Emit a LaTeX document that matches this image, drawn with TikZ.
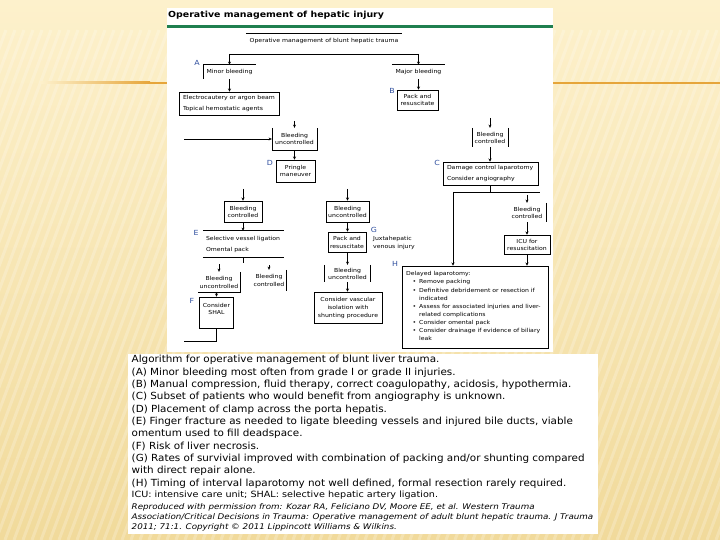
\documentclass[tikz,border=0pt]{standalone}
\usepackage{fontspec}
\setmainfont{DejaVu Sans}[FakeStretch=1.12]
\newfontfamily\capfont{DejaVu Sans}[FakeStretch=1.06]
\usetikzlibrary{arrows.meta}
\definecolor{bgtop}{HTML}{FDF1CC}
\definecolor{bgbot}{HTML}{F1DA9B}
\definecolor{orangeline}{HTML}{E6A53A}
\definecolor{greenline}{HTML}{1F7F4F}
\definecolor{lblblue}{HTML}{2F4F9F}
\newcommand{\hbul}{\makebox[13pt][l]{\hspace{6.5pt}\textbullet}}
\newcommand{\hind}{\hspace*{13pt}}
\tikzset{
  txt/.style={font=\fontsize{5.5}{7}\selectfont, align=center, inner sep=0pt, rectangle},
  fullbox/.style={txt, draw, line width=0.6pt},
  openbox/.style={txt},
  sz/.style n args={2}{minimum width=#1pt, minimum height=#2pt},
  conn/.style={line width=0.6pt},
  arr/.style={conn, -{Stealth[length=3.2pt,width=3pt]}},
  lbl/.style={font=\fontsize{7}{8}\selectfont, text=lblblue, inner sep=0pt},
  captxt/.style={font=\capfont\fontsize{9.8}{12}\selectfont, anchor=west, inner sep=0pt},
  capsmall/.style={font=\fontsize{8.6}{9}\selectfont, anchor=west, inner sep=0pt},
  capit/.style={font=\fontsize{7.8}{9}\selectfont\itshape, anchor=west, inner sep=0pt},
}
\begin{document}
\begin{tikzpicture}[x=1pt,y=-1pt]
\useasboundingbox (0,0) rectangle (720,540);
% background
\shade[top color=bgtop, bottom color=bgbot] (0,0) rectangle (720,540);
\begin{scope}
\clip (0,30) rectangle (720,540);
\foreach \x in {-220,-211,...,720} { \draw[white, opacity=0.22, line width=3pt] (\x,540) -- (\x+190,30); }
\end{scope}
\shade[left color=bgtop, right color=orangeline] (40,82) rectangle (150,84);
\fill[orangeline] (150,82) rectangle (720,84);
% panels
\fill[white] (167,8) rectangle (553,352);
\fill[white] (128,354) rectangle (598,534);
% title
\node[font=\fontsize{8.4}{10}\selectfont\bfseries, anchor=west, inner sep=0pt] (title) at (168,15.5) {Operative management of hepatic injury};
\fill[greenline] (167,25) rectangle (553,28);

% nodes
\node[openbox, sz={156}{14}] (root) at (324,41) {Operative management of blunt hepatic trauma};
\draw[conn] (root.north west) -- (root.north east);
\node[openbox, sz={53}{14}] (minor) at (229.5,72) {Minor bleeding};
\draw[conn] (minor.south west) -- (minor.north west) -- (minor.north east);
\node[openbox, sz={53}{14}] (major) at (418.5,72) {Major bleeding};
\draw[conn] (major.north west) -- (major.north east);
\node[fullbox, text width=92pt, inner xsep=4pt, align=left, minimum height=23pt, font=\fontsize{5.5}{11}\selectfont] (electro) at (229,103.5) {Electrocautery or argon beam\\Topical hemostatic agents};
\node[fullbox, sz={41}{20}, font=\fontsize{5.5}{7.5}\selectfont] (packB) at (417.5,100) {Pack and\\resuscitate};
\node[openbox, sz={45}{22}] (bu1) at (294.5,139) {Bleeding\\uncontrolled};
\draw[conn] (bu1.north west) -- (bu1.south west) -- (bu1.south east) -- (bu1.north east);
\node[openbox, sz={36}{19}] (bc1) at (490,137.5) {Bleeding\\controlled};
\draw[conn] (bc1.north west) -- (bc1.south west);
\draw[conn] (bc1.north east) -- (bc1.south east);
\node[fullbox, sz={39}{22}] (pringle) at (295.5,171) {Pringle\\maneuver};
\node[fullbox, text width=87pt, inner xsep=4pt, align=left, minimum height=23pt, font=\fontsize{5.5}{11}\selectfont] (dcl) at (490.5,173.5) {Damage control laparotomy\\Consider angiography};
\node[fullbox, sz={38}{21}] (bc2) at (243,211.5) {Bleeding\\controlled};
\node[fullbox, sz={43}{21}] (bu2) at (347.5,211.5) {Bleeding\\uncontrolled};
\node[openbox, sz={38}{19}] (bc3) at (527,212.5) {Bleeding\\controlled};
\draw[conn] (bc3.north east) -- (bc3.south east);
\node[fullbox, sz={46}{19}] (icu) at (527,244.5) {ICU for\\resuscitation};
\node[openbox, text width=75pt, inner xsep=3pt, align=left, minimum height=26pt, font=\fontsize{5.5}{11}\selectfont] (E) at (243.5,244) {Selective vessel ligation\\Omental pack};
\draw[conn] (E.north west) -- (E.north east);
\draw[conn] (E.south west) -- (E.south east);
\node[fullbox, sz={38}{20}, font=\fontsize{5.5}{8}\selectfont] (packG) at (347,242) {Pack and\\resuscitate};
\node[txt, align=left, anchor=west, font=\fontsize{5.5}{8}\selectfont] (juxta) at (373,243) {Juxtahepatic\\venous injury};
\node[openbox, sz={46}{17}] (bu4) at (347.5,273.5) {Bleeding\\uncontrolled};
\draw[conn] (bu4.north west) -- (bu4.south west);
\draw[conn] (bu4.north east) -- (bu4.south east);
\node[fullbox, sz={68}{31}, font=\fontsize{5.5}{8}\selectfont] (vasc) at (348,307.5) {Consider vascular\\isolation with\\shunting procedure};
\node[openbox, sz={42}{20}, font=\fontsize{5.5}{8}\selectfont] (bu3) at (219,282) {Bleeding\\uncontrolled};
\draw[conn] (bu3.north east) -- (bu3.south east) -- (bu3.south west);
\node[openbox, sz={34}{21}, font=\fontsize{5.5}{8}\selectfont] (bc4) at (269,280.5) {Bleeding\\controlled};
\draw[conn] (bc4.north east) -- (bc4.south east);
\node[fullbox, sz={34}{31}] (shal) at (216.5,312.5) {};
\node[txt] (shaltext) at (216.5,308.5) {Consider\\SHAL};
\node[fullbox, sz={146}{82}] (H) at (475,307) {};
\node[txt, align=left, anchor=north west, font=\fontsize{5.5}{8.1}\selectfont] (Htext) at (406,271.5) {Delayed laparotomy:\\\hbul Remove packing\\\hbul Definitive debridement or resection if\\\hind indicated\\\hbul Assess for associated injuries and liver-\\\hind related complications\\\hbul Consider omental pack\\\hbul Consider drainage if evidence of biliary\\\hind leak};

% labels
\node[lbl] (lA) at (197,63) {A};
\node[lbl] (lB) at (392,91) {B};
\node[lbl] (lC) at (437,163) {C};
\node[lbl] (lD) at (270,163) {D};
\node[lbl] (lE) at (196,233) {E};
\node[lbl] (lF) at (192,301) {F};
\node[lbl] (lG) at (374,230) {G};
\node[lbl] (lH) at (395,264) {H};

% connectors
\coordinate (tl) at (229.5,54);
\coordinate (tr) at (418.5,54);
\draw[conn] (tl) -- (tr);
\draw[arr] (tl) -- (minor.north);
\draw[arr] (tr) -- (major.north);
\draw[arr] (minor.south) -- (minor.south |- electro.north);
\draw[arr] (major.south) -- (major.south |- packB.north);
\coordinate (s1) at (294.5,121);
\draw[arr] (s1) -- (bu1.north);
\coordinate (lf) at (184,139);
\draw[arr] (lf) -- (bu1.west);
\draw[arr] (bu1.south) -- (bu1.south |- pringle.north);
\coordinate (s2) at (490,118);
\draw[arr] (s2) -- (bc1.north);
\draw[arr] (bc1.south) -- (bc1.south |- dcl.north);
\coordinate (j1) at (490,192);
\coordinate (jl) at (453,192);
\coordinate (jr) at (540,192);
\draw[conn] (dcl.south -| j1) -- (j1);
\draw[conn] (jl) -- (jr);
\draw[arr] (jl) -- (jl |- H.north);
\coordinate (s7) at (527,195);
\draw[arr] (s7) -- (bc3.north);
\draw[arr] (bc3.south) -- (icu.north);
\draw[arr] (icu.south) -- (icu.south |- H.north);
\coordinate (s3) at (243,189);
\coordinate (s4) at (347.5,189);
\draw[arr] (s3) -- (bc2.north);
\draw[arr] (s4) -- (bu2.north);
\draw[arr] (bc2.south) -- (bc2.south |- E.north);
\coordinate (e1) at (243,263);
\draw[conn] (E.south -| e1) -- (e1);
\coordinate (s5) at (219,264);
\draw[arr] (s5) -- (bu3.north);
\coordinate (s6) at (269,265);
\draw[arr] (s6) -- (bc4.north);
\draw[arr] (bu3.south -| shal.north) -- (shal.north);
\coordinate (f1) at (184,341);
\draw[conn] (shal.south) |- (f1);
\draw[arr] (bu2.south) -- (bu2.south |- packG.north);
\draw[arr] (packG.south -| bu4.north) -- (bu4.north);
\draw[arr] (bu4.south) -- (bu4.south |- vasc.north);

% caption
\node[captxt] (c1) at (131.5,360) {Algorithm for operative management of blunt liver trauma.};
\node[captxt] (c2) at (131.5,372.5) {(A) Minor bleeding most often from grade I or grade II injuries.};
\node[captxt] (c3) at (131.5,385) {(B) Manual compression, fluid therapy, correct coagulopathy, acidosis, hypothermia.};
\node[captxt] (c4) at (131.5,397) {(C) Subset of patients who would benefit from angiography is unknown.};
\node[captxt] (c5) at (131.5,409.5) {(D) Placement of clamp across the porta hepatis.};
\node[captxt] (c6) at (131.5,422) {(E) Finger fracture as needed to ligate bleeding vessels and injured bile ducts, viable};
\node[captxt] (c7) at (131.5,434) {omentum used to fill deadspace.};
\node[captxt] (c8) at (131.5,446.5) {(F) Risk of liver necrosis.};
\node[captxt] (c9) at (131.5,459) {(G) Rates of survivial improved with combination of packing and/or shunting compared};
\node[captxt] (c10) at (131.5,471) {with direct repair alone.};
\node[captxt] (c11) at (131.5,483.5) {(H) Timing of interval laparotomy not well defined, formal resection rarely required.};
\node[capsmall] (c12) at (131.5,495) {ICU: intensive care unit; SHAL: selective hepatic artery ligation.};
\node[capit] (c13) at (131.5,507) {Reproduced with permission from: Kozar RA, Feliciano DV, Moore EE, et al. Western Trauma};
\node[capit] (c14) at (131.5,517.5) {Association/Critical Decisions in Trauma: Operative management of adult blunt hepatic trauma. J Trauma};
\node[capit] (c15) at (131.5,527.5) {2011; 71:1. Copyright © 2011 Lippincott Williams \& Wilkins.};
\end{tikzpicture}
\end{document}
